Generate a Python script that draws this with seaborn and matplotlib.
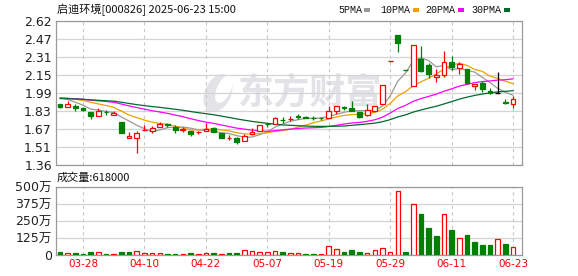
import numpy as np
import pandas as pd
import matplotlib
matplotlib.use('Agg')
import matplotlib.pyplot as plt
import seaborn as sns
from matplotlib.patches import Rectangle, Ellipse
from matplotlib.transforms import IdentityTransform

# ---------------- data ----------------
title = '启迪环境[000826] 2025-06-23 15:00'
vol_title = '成交量:618000'
date_labels = ['03-28', '04-10', '04-22', '05-07', '05-19', '05-29', '06-11', '06-23']
date_idx = [3, 11, 19, 27, 35, 43, 51, 59]
price_tick_labels = ['1.36', '1.51', '1.67', '1.83', '1.99', '2.15', '2.31', '2.47', '2.62']
vol_tick_vals = [0, 125, 250, 375, 500]
vol_tick_labels = ['0', '125万', '250万', '375万', '500万']
ma_names = ['5PMA', '10PMA', '20PMA', '30PMA']
ma_windows = [5, 10, 20, 30]

open_ = [1.89, 1.87, 1.875, 1.858, 1.823, 1.792, 1.825, 1.80, 1.734, 1.597,
         1.592, 1.664, 1.658, 1.696, 1.72, 1.693, 1.668, 1.658, 1.645, 1.661,
         1.684, 1.636, 1.598, 1.592, 1.568, 1.627, 1.658, 1.72, 1.715, 1.757,
         1.76, 1.79, 1.78, 1.775, 1.775, 1.771, 1.832, 1.864, 1.857, 1.82,
         1.795, 1.832, 1.896, 2.27, 2.50, 2.19, 2.05, 2.287, 2.238, 2.13,
         2.148, 2.258, 2.21, 2.20, 2.05, 2.08, 2.01, 1.99, 1.915, 1.89]
high = [1.895, 1.916, 1.896, 1.864, 1.823, 1.861, 1.844, 1.832, 1.734, 1.65,
        1.655, 1.708, 1.705, 1.734, 1.728, 1.71, 1.69, 1.658, 1.66, 1.731,
        1.693, 1.64, 1.62, 1.606, 1.627, 1.687, 1.707, 1.731, 1.78, 1.78,
        1.786, 1.81, 1.785, 1.79, 1.78, 1.873, 1.873, 1.873, 1.919, 1.82,
        1.89, 1.873, 2.06, 2.27, 2.50, 2.19, 2.41, 2.40, 2.25, 2.20,
        2.36, 2.31, 2.26, 2.20, 2.07, 2.093, 2.03, 2.17, 1.94, 1.968]
low = [1.855, 1.865, 1.835, 1.832, 1.762, 1.79, 1.797, 1.80, 1.641, 1.592,
       1.467, 1.662, 1.644, 1.696, 1.69, 1.644, 1.652, 1.615, 1.627, 1.661,
       1.65, 1.60, 1.583, 1.54, 1.568, 1.62, 1.658, 1.693, 1.715, 1.728,
       1.742, 1.76, 1.768, 1.755, 1.75, 1.771, 1.81, 1.845, 1.832, 1.77,
       1.788, 1.83, 1.896, 2.27, 2.35, 2.19, 2.05, 2.17, 2.122, 2.085,
       2.13, 2.19, 2.157, 2.07, 2.012, 2.003, 1.98, 1.99, 1.89, 1.861]
close = [1.865, 1.89, 1.862, 1.84, 1.788, 1.829, 1.822, 1.818, 1.641, 1.614,
         1.644, 1.67, 1.684, 1.722, 1.713, 1.670, 1.672, 1.635, 1.648, 1.679,
         1.65, 1.60, 1.60, 1.557, 1.615, 1.65, 1.707, 1.715, 1.77, 1.752,
         1.766, 1.78, 1.772, 1.77, 1.771, 1.832, 1.873, 1.86, 1.832, 1.78,
         1.838, 1.873, 2.06, 2.27, 2.43, 2.19, 2.41, 2.186, 2.157, 2.15,
         2.258, 2.215, 2.245, 2.076, 2.07, 2.027, 1.99, 1.99, 1.905, 1.94]
# closes of the 29 sessions before the window (inferred from where the MA lines start)
prior_close = [1.93, 1.94, 1.92, 1.93, 1.95, 1.94, 1.92, 1.93, 1.94, 1.95,
               1.93, 1.92, 1.94, 1.95, 1.93, 1.94, 1.96, 1.95, 1.94, 1.93,
               1.95, 1.96, 1.94, 1.95, 1.97, 1.96, 1.98, 1.97, 1.96]
# volume in 万 shares
volume = [25, 15, 15, 10, 25, 25, 10, 10, 25, 25,
          30, 15, 15, 15, 10, 10, 10, 15, 10, 15,
          15, 10, 15, 15, 37, 30, 25, 25, 30, 25,
          15, 15, 10, 10, 10, 69, 44, 25, 39, 25,
          15, 37, 52, 25, 468, 25, 377, 303, 202, 143,
          303, 187, 128, 150, 99, 76, 76, 118, 84, 61.8]
# r = up session (hollow red bar), g = down session (solid green bar)
vol_dir = ('grgggrgrgg' 'rrrrggrgrr' 'grggrrrrrg' 'rrggrrrggg'
           'rrrrrgrggg' 'rgrggggrgr')

# ---------------- style ----------------
sns.set_theme(style='white')
plt.rcParams['font.family'] = ['DejaVu Sans', 'Noto Sans CJK SC']

RED = '#ff0000'
GREEN = '#008000'
BLACK = '#000000'
MA_COLORS = ['#999999', '#f0a000', '#ff00ff', '#006a2e']
GRID = '#d4d4d4'
SPINE = '#9a9a9a'
WM = '#e3e3e7'

W, H = 578, 276
fig = plt.figure(figsize=(W / 100, H / 100), dpi=100)
fig.patch.set_facecolor('white')

def fx(px):
    return px / W

def fy(py):
    return 1 - py / H

ax = fig.add_axes([fx(56), fy(165), fx(522) - fx(56), fy(21) - fy(165)])
axv = fig.add_axes([fx(56), fy(255), fx(522) - fx(56), fy(187) - fy(255)])

n = len(close)
idx = np.arange(n)
xlim = (-0.52, n - 1 + 1.17)

# ---------------- price panel ----------------
ax.set_xlim(*xlim)
ax.set_ylim(1.36, 2.62)
ax.set_yticks(np.linspace(1.36, 2.62, len(price_tick_labels)))
ax.set_yticklabels(price_tick_labels)
ax.set_xticks([])
ax.grid(False)
for yv in np.linspace(1.36, 2.62, len(price_tick_labels)):
    ax.axhline(yv, color=GRID, lw=0.9, zorder=0)
for d in date_idx:
    ax.axvline(d, color='#c8c8c8', lw=0.8, ls=(0, (3, 3)), zorder=0)

# watermark (logo + text), drawn beneath the grid
ident = IdentityTransform()
ax.add_patch(Ellipse((218, H - 93), 26, 40, angle=-25, facecolor=WM,
                     edgecolor='none', transform=ident, zorder=-0.3))
ax.add_patch(Ellipse((224, H - 89), 14, 30, angle=-25, facecolor='white',
                     edgecolor='none', transform=ident, zorder=-0.2))
ax.text(0.545, 0.50, '东方财富', transform=ax.transAxes, ha='center', va='center',
        fontsize=26, color=WM, fontweight='bold',
        family=['Noto Sans CJK SC'], zorder=-0.1)

full = pd.Series(prior_close + close)
ma_df = pd.DataFrame({'idx': idx})
for name, w in zip(ma_names, ma_windows):
    ma_df[name] = full.rolling(w).mean().iloc[len(prior_close):].values
for name, col in zip(ma_names, MA_COLORS):
    sns.lineplot(data=ma_df, x='idx', y=name, ax=ax, color=col, lw=0.9,
                 legend=False, zorder=2)
ax.set_xlabel('')
ax.set_ylabel('')

bw = 0.62
for i in range(n):
    o, h, l, c = open_[i], high[i], low[i], close[i]
    if c > o:
        col = RED
    elif c < o:
        col = GREEN
    else:
        pc = close[i - 1] if i > 0 else c
        col = RED if c > pc else (GREEN if c < pc else BLACK)
    ax.vlines(i, l, h, color=col, lw=0.9, zorder=3)
    if c == o:
        ax.hlines(c, i - bw / 2, i + bw / 2, color=col, lw=1.0, zorder=4)
    else:
        bot, top = min(o, c), max(o, c)
        face = 'white' if c > o else col
        ax.add_patch(Rectangle((i - bw / 2, bot), bw, top - bot, facecolor=face,
                               edgecolor=col, lw=0.9, zorder=4))

ax.tick_params(axis='y', length=0, pad=3, labelsize=9, colors='#222222')
for s in ax.spines.values():
    s.set_color(SPINE)
    s.set_linewidth(0.9)

# ---------------- volume panel ----------------
axv.set_xlim(*xlim)
axv.set_ylim(0, 500)
axv.grid(False)
for yv in vol_tick_vals:
    axv.axhline(yv, color=GRID, lw=0.9, zorder=0)
for d in date_idx:
    axv.axvline(d, color='#c8c8c8', lw=0.8, ls=(0, (3, 3)), zorder=0)
faces = ['white' if d == 'r' else GREEN for d in vol_dir]
edges = [RED if d == 'r' else GREEN for d in vol_dir]
axv.bar(idx, volume, width=0.6, color=faces, edgecolor=edges, lw=0.9, zorder=3)
axv.set_yticks(vol_tick_vals)
axv.set_yticklabels(vol_tick_labels)
axv.set_xticks(date_idx)
axv.set_xticklabels(date_labels, color=RED)
axv.tick_params(axis='y', length=0, pad=3, labelsize=9, colors='#222222')
axv.tick_params(axis='x', length=0, pad=3, labelsize=7.5)
for s in axv.spines.values():
    s.set_color(SPINE)
    s.set_linewidth(0.9)

# ---------------- header texts ----------------
fig.text(fx(57), fy(10), title, ha='left', va='center', fontsize=8,
         family=['Noto Sans CJK SC'], color='#111111')
fig.text(fx(57), fy(178), vol_title, ha='left', va='center', fontsize=8,
         family=['Noto Sans CJK SC'], color='#111111')

leg_x = [338, 380, 425, 471]
for name, col, lx in zip(ma_names, MA_COLORS, leg_x):
    fig.text(fx(lx), fy(10), name, ha='left', va='center', fontsize=7.2,
             family=['Liberation Mono'], color='#111111')
    sq_x = lx + 6.1 * len(name) + 2
    fig.patches.append(Rectangle((fx(sq_x), fy(12)), 6 / W, 4 / H,
                                 transform=fig.transFigure, facecolor=col,
                                 edgecolor='none'))

fig.savefig('out.png', dpi=100, facecolor='white')
